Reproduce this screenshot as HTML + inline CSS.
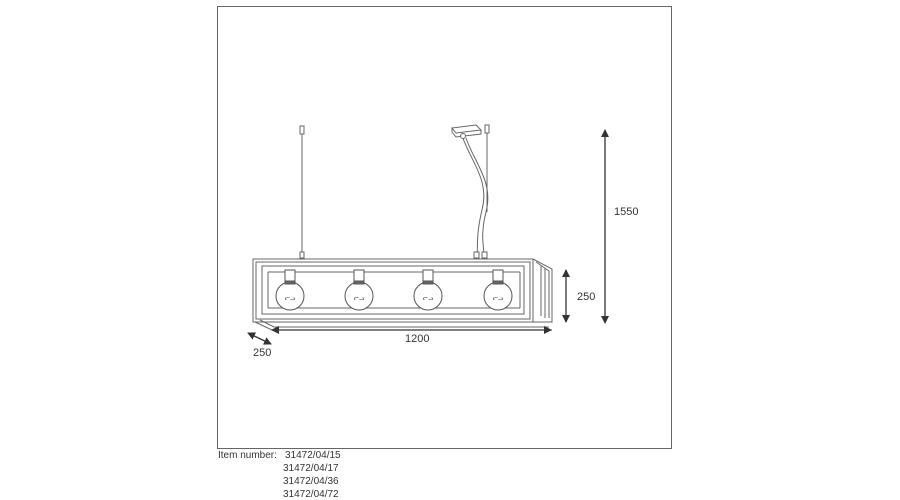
<!DOCTYPE html>
<html><head><style>
html,body{margin:0;padding:0;background:#fff;width:900px;height:500px;overflow:hidden}
svg{position:absolute;left:0;top:0}
text{font-family:"Liberation Sans",sans-serif;fill:#333}
</style></head><body>
<svg width="900" height="500" viewBox="0 0 900 500">
<defs>
<marker id="a" markerWidth="8" markerHeight="8" refX="7" refY="4" orient="auto-start-reverse" markerUnits="userSpaceOnUse"><path d="M0,0 L8,4 L0,8 Z" fill="#333"/></marker>
</defs>
<rect x="217.5" y="6.5" width="454" height="442" fill="none" stroke="#666" stroke-width="1"/>
<g stroke="#666" fill="none" stroke-width="1">
<line x1="302" y1="130" x2="302" y2="256"/>
<rect x="300" y="126" width="4" height="8" fill="#fff"/>
<rect x="300" y="252" width="4" height="6" fill="#fff"/>
<path d="M452,128 L476,125 L481,130 L456,133 Z" fill="#fff"/>
<path d="M452,128 L452,132 L456,137 L481,134 L481,130"/>
<circle cx="463" cy="136" r="2.5" fill="#fff"/>
<path d="M463,138 C470,160 490,180 482,210 C476,235 478,245 477,256"/>
<path d="M466,138 C474,162 494,182 486,212 C480,236 484,246 484,256"/>
<line x1="487" y1="130" x2="487" y2="212"/>
<rect x="485" y="125" width="4" height="8" fill="#fff"/>
<rect x="474" y="252" width="5" height="6" fill="#fff"/>
<rect x="482" y="252" width="5" height="6" fill="#fff"/>
<path d="M533,259 L552,269 L552,322 L533,322"/>
<path d="M536,262 L549,271 L549,318"/>
<path d="M541,266 L541,316 M545,268 L545,318"/>
<path d="M255,322 L272,330 L552,330"/>
<path d="M260,320 L274,327 L549,327"/>
<rect x="253" y="259" width="280" height="63"/>
<rect x="256" y="262" width="274" height="57"/>
<rect x="262" y="266" width="262" height="48"/>
<line x1="268" y1="272" x2="520" y2="272"/>
<line x1="268" y1="308" x2="520" y2="308"/>
<line x1="268" y1="272" x2="268" y2="308"/>
<line x1="520" y1="272" x2="520" y2="308"/>
</g>
<g stroke="#555" stroke-width="1" fill="#fff">
<g id="b">
<circle cx="290" cy="296" r="14"/>
<rect x="285" y="270" width="10" height="12"/>
<rect x="285" y="281" width="10" height="3" fill="#666"/>
<text x="290" y="300" font-size="6" text-anchor="middle" stroke="none">ᓕᓗ</text>
</g>
<use href="#b" x="69"/>
<use href="#b" x="138"/>
<use href="#b" x="208"/>
</g>
<g stroke="#333" stroke-width="1.3">
<line x1="605" y1="130" x2="605" y2="323" marker-start="url(#a)" marker-end="url(#a)"/>
<line x1="566" y1="270" x2="566" y2="322" marker-start="url(#a)" marker-end="url(#a)"/>
<line x1="272" y1="330" x2="551" y2="330" marker-start="url(#a)" marker-end="url(#a)"/>
<line x1="248" y1="333" x2="271" y2="344" marker-start="url(#a)" marker-end="url(#a)"/>
</g>
<text x="614" y="215" font-size="11">1550</text>
<text x="577" y="300" font-size="11">250</text>
<text x="405" y="342" font-size="11">1200</text>
<text x="253" y="356" font-size="11">250</text>
<g font-size="10">
<text x="218" y="458">Item number:</text>
<text x="285" y="458">31472/04/15</text>
<text x="283" y="471">31472/04/17</text>
<text x="283" y="484">31472/04/36</text>
<text x="283" y="497">31472/04/72</text>
</g>
</svg>
</body></html>
